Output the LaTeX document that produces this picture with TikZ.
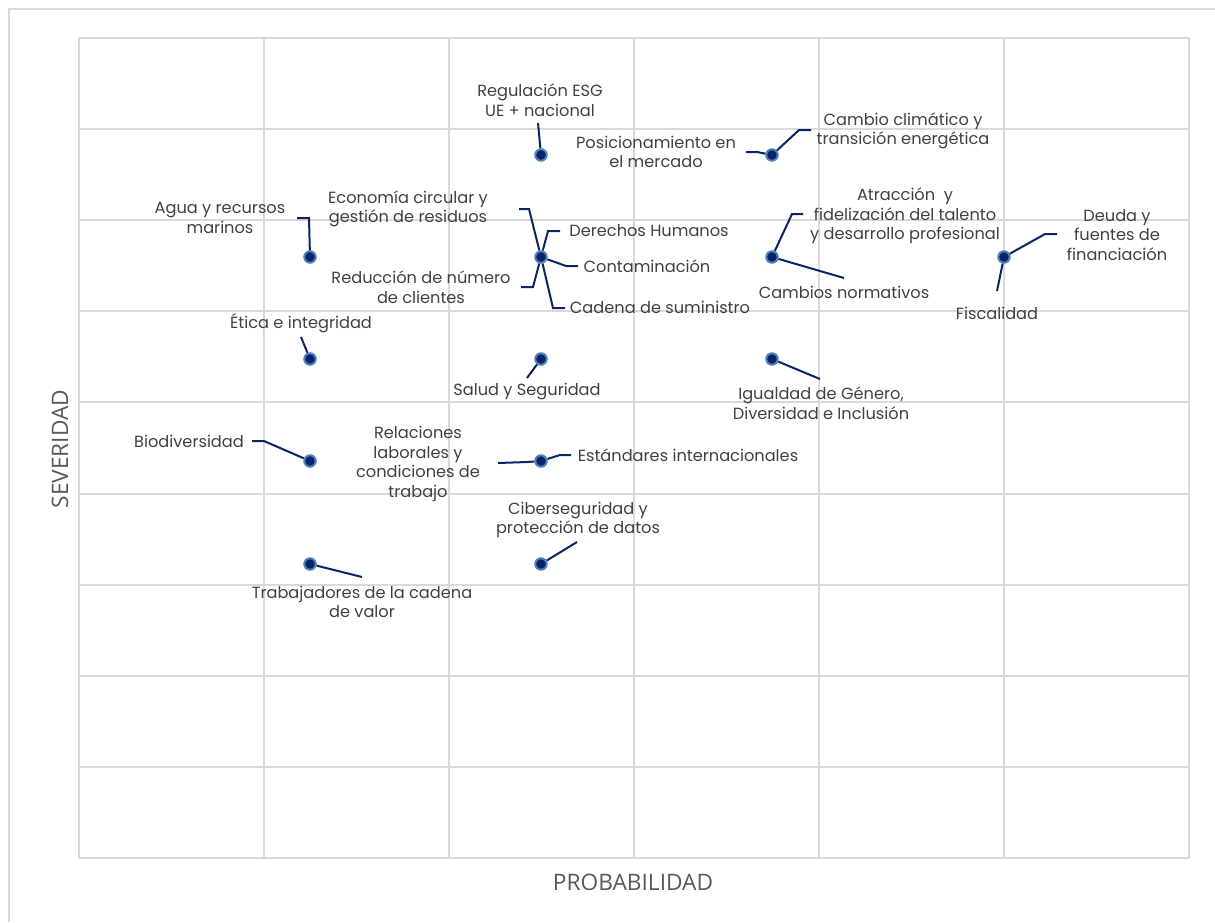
\documentclass[tikz,border=0pt]{standalone}
\usepackage{fontspec}
\newfontfamily\lblfont{Poppins}
\newfontfamily\axfont{Open Sans}
\definecolor{navy}{HTML}{0B2468}
\definecolor{ring}{HTML}{4F81BD}
\definecolor{gridgray}{HTML}{D9D9D9}
\definecolor{txtgray}{HTML}{404040}
\definecolor{axgray}{HTML}{595959}
\tikzset{
  dot/.style={circle, fill=navy, draw=ring, line width=2pt, inner sep=0pt, minimum size=11.5pt},
  lbl/.style={font=\lblfont\fontsize{16.2}{19.6}\selectfont, text=txtgray, align=center, inner sep=0pt},
  axlbl/.style={font=\axfont\fontsize{22.7}{26}\selectfont, text=axgray, inner sep=0pt},
  leader/.style={navy, line width=2pt},
}

\begin{document}
\begin{tikzpicture}[x=1pt,y=-1pt]
    \useasboundingbox (0,0) rectangle (1215,922);

    \draw[gridgray, line width=1.5pt] (9,922) -- (9,9) -- (1215,9);
    \foreach \i in {0,...,6}
        \draw[gridgray, line width=2pt] (79+185*\i,38) -- (79+185*\i,858);
    \foreach \j in {0,...,9}
        \draw[gridgray, line width=2pt] (79,38+91.11*\j) -- (1189,38+91.11*\j);

    \node[dot] (esg) at (541,155) {};
    \node[dot] (mkt) at (772,155) {};
    \node[dot] (agua) at (310,257) {};
    \node[dot] (circ) at (541,257) {};
    \node[dot] (talento) at (772,257) {};
    \node[dot] (deuda) at (1004,257) {};
    \node[dot] (etica) at (310,359) {};
    \node[dot] (salud) at (541,359) {};
    \node[dot] (genero) at (772,359) {};
    \node[dot] (bio) at (310,461) {};
    \node[dot] (estand) at (541,461) {};
    \node[dot] (trab) at (310,564) {};
    \node[dot] (ciber) at (541,564) {};

    \coordinate (E1) at (538,123);
    \coordinate (M1) at (757,152);
    \coordinate (M2) at (746,152);
    \coordinate (K1) at (799,130);
    \coordinate (K2) at (811,130);
    \coordinate (A1) at (309,218);
    \coordinate (A2) at (297,218);
    \coordinate (C1) at (529,209);
    \coordinate (C2) at (519,209);
    \coordinate (D1) at (548,231);
    \coordinate (D2) at (560,231);
    \coordinate (P1) at (566,266);
    \coordinate (P2) at (578,266);
    \coordinate (R1) at (533,287);
    \coordinate (R2) at (521,287);
    \coordinate (S1) at (553,308);
    \coordinate (S2) at (565,308);
    \coordinate (T1) at (792,214);
    \coordinate (T2) at (803,214);
    \coordinate (N1) at (844,278);
    \coordinate (F1) at (1045,234);
    \coordinate (F2) at (1057,234);
    \coordinate (G1) at (997,291);
    \coordinate (I1) at (301,337);
    \coordinate (H1) at (527,378);
    \coordinate (Q1) at (820,379);
    \coordinate (B1) at (264,441);
    \coordinate (B2) at (252,441);
    \coordinate (L1) at (527,462);
    \coordinate (L2) at (498,463);
    \coordinate (X1) at (560,455);
    \coordinate (X2) at (571,455);
    \coordinate (V1) at (362,577);
    \coordinate (Y1) at (577,542);

    \draw[leader] (esg) -- (E1);
    \draw[leader] (mkt) -- (M1) -- (M2);
    \draw[leader] (mkt) -- (K1) -- (K2);
    \draw[leader] (agua) -- (A1) -- (A2);
    \draw[leader] (circ) -- (C1) -- (C2);
    \draw[leader] (circ) -- (D1) -- (D2);
    \draw[leader] (circ) -- (P1) -- (P2);
    \draw[leader] (circ) -- (R1) -- (R2);
    \draw[leader] (circ) -- (S1) -- (S2);
    \draw[leader] (talento) -- (T1) -- (T2);
    \draw[leader] (talento) -- (N1);
    \draw[leader] (deuda) -- (F1) -- (F2);
    \draw[leader] (deuda) -- (G1);
    \draw[leader] (etica) -- (I1);
    \draw[leader] (salud) -- (H1);
    \draw[leader] (genero) -- (Q1);
    \draw[leader] (bio) -- (B1) -- (B2);
    \draw[leader] (estand) -- (L1) -- (L2);
    \draw[leader] (estand) -- (X1) -- (X2);
    \draw[leader] (trab) -- (V1);
    \draw[leader] (ciber) -- (Y1);

%labels
    \node[lbl] (esg-t) at (540,100) {Regulación ESG\\UE + nacional};
    \node[lbl] (mkt-t) at (656,152) {Posicionamiento en\\el mercado};
    \node[lbl] (clima-t) at (903,131) {Cambio climático y\\transición energética};
    \node[lbl] (agua-t) at (220,218) {Agua y recursos\\marinos};
    \node[lbl] (circ-t) at (408,209) {Economía circular y\\gestión de residuos};
    \node[lbl] (dh-t) at (649,231) {Derechos Humanos};
    \node[lbl] (cont-t) at (647,266) {Contaminación};
    \node[lbl] (red-t) at (421,287) {Reducción de número\\de clientes};
    \node[lbl] (cad-t) at (660,307) {Cadena de suministro};
    \node[lbl] (talento-t) at (905,216) {Atracción~ y\\fidelización del talento\\y desarrollo profesional};
    \node[lbl] (norm-t) at (844,292) {Cambios normativos};
    \node[lbl] (deuda-t) at (1117,235) {Deuda y\\fuentes de\\financiación};
    \node[lbl] (fisc-t) at (997,313) {Fiscalidad};
    \node[lbl] (etica-t) at (301,323) {Ética e integridad};
    \node[lbl] (salud-t) at (527,392) {Salud y Seguridad};
    \node[lbl] (genero-t) at (821,403) {Igualdad de Género,\\Diversidad e Inclusión};
    \node[lbl] (bio-t) at (189,441) {Biodiversidad};
    \node[lbl] (rel-t) at (418,464) {Relaciones\\laborales y\\condiciones de\\trabajo};
    \node[lbl] (estand-t) at (688,455) {Estándares internacionales};
    \node[lbl] (ciber-t) at (578,520) {Ciberseguridad y\\protección de datos};
    \node[lbl] (trab-t) at (362,602) {Trabajadores de la cadena\\de valor};

    \node[axlbl] (probx) at (633,882) {PROBABILIDAD};
    \node[axlbl, rotate=90] (sevy) at (60,449) {SEVERIDAD};

\end{tikzpicture}
\end{document}
